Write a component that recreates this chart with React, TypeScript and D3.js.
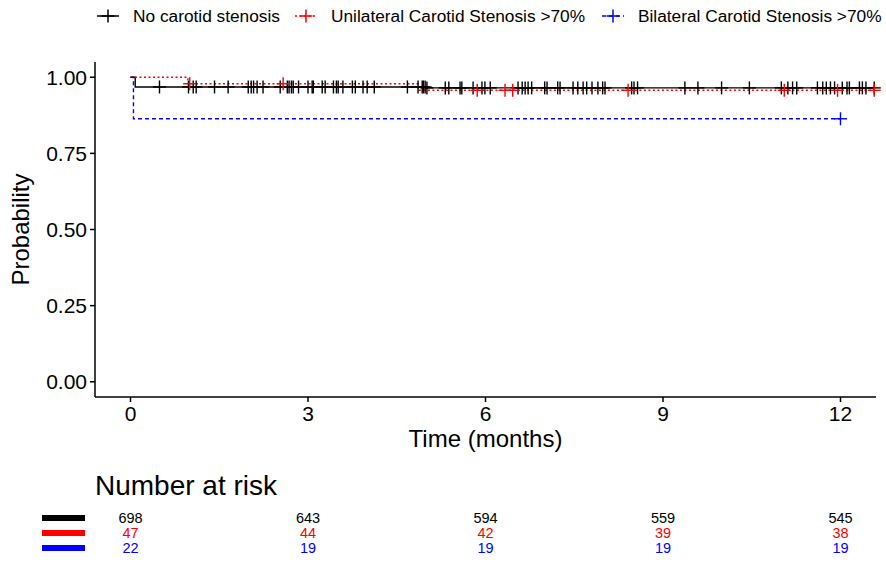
import React from "react";
import * as d3 from "d3";

const W = 886;
const H = 564;

const groups = ["No carotid stenosis", "Unilateral Carotid Stenosis >70%", "Bilateral Carotid Stenosis >70%"];
const colors = ["#000000", "#ff0000", "#0000ff"];
const dashes = ["none", "2,2.5", "4,3"];

// step survival curves: [time, survival]
const survBlack: [number, number][] = [[0, 1], [0.08, 0.968], [5.0, 0.965], [12.57, 0.965]];
const survRed: [number, number][] = [[0, 1], [0.97, 0.9787], [4.86, 0.957], [12.57, 0.957]];
const survBlue: [number, number][] = [[0, 1], [0.05, 0.8636], [12.0, 0.8636]];

const censorBlack = [0.49, 0.98, 1.06, 1.11, 1.42, 1.65, 1.99, 2.04, 2.08, 2.14, 2.24, 2.53, 2.65, 2.68, 2.72, 2.75, 2.84, 3.0, 3.07, 3.09, 3.24, 3.29, 3.43, 3.48, 3.51, 3.59, 3.75, 3.8, 3.93, 4.0, 4.12, 4.68, 4.86, 4.93, 4.95, 4.98, 5.01, 5.32, 5.38, 5.57, 5.6, 5.79, 5.94, 5.99, 6.08, 6.55, 6.62, 6.67, 6.72, 6.78, 7.0, 7.04, 7.22, 7.26, 7.48, 7.56, 7.65, 7.71, 7.8, 7.9, 7.98, 8.02, 8.47, 8.51, 8.57, 9.37, 9.59, 9.99, 10.46, 11.0, 11.11, 11.19, 11.26, 11.61, 11.7, 11.76, 11.83, 11.9, 12.03, 12.11, 12.15, 12.32, 12.37, 12.43, 12.57];
const censorRed = [1.0, 2.58, 5.86, 6.33, 6.46, 8.41, 11.05, 11.95, 12.57];
const censorBlue = [12.0];

const xTicks = [0, 3, 6, 9, 12];
const yTicks = [0, 0.25, 0.5, 0.75, 1.0];
const riskBlack = [698, 643, 594, 559, 545];
const riskRed = [47, 44, 42, 39, 38];
const riskBlue = [22, 19, 19, 19, 19];

const FONT = "'Liberation Sans', Arial, Helvetica, sans-serif";

function survAt(curve: [number, number][], t: number) {
  let s = curve[0][1];
  for (const [ct, cs] of curve) if (ct <= t) s = cs;
  return s;
}

export default function App() {
  const left = 95, right = 876, top = 62, bottom = 397;
  const x = d3.scaleLinear().domain([-0.6, 12.6]).range([left, right]);
  const y = d3.scaleLinear().domain([-0.05, 1.05]).range([bottom, top]);
  const line = d3.line<[number, number]>().x((d) => x(d[0])).y((d) => y(d[1])).curve(d3.curveStepAfter);

  const curves = [survBlack, survRed, survBlue];
  const censors = [censorBlack, censorRed, censorBlue];
  const risks = [riskBlack, riskRed, riskBlue];
  const cs = 6.5;

  const legendItems = [
    { key: 108, text: 133 },
    { key: 306, text: 331 },
    { key: 613, text: 638 },
  ];

  return (
    <svg width={W} height={H} style={{ position: "absolute", left: 0, top: 0 }} fontFamily={FONT}>
      <rect width={W} height={H} fill="#fff" />
      {/* legend */}
      {legendItems.map((it, i) => (
        <g key={i}>
          <line x1={it.key - 11} x2={it.key + 11} y1={16} y2={16} stroke={colors[i]} strokeWidth={1.5} strokeDasharray={dashes[i]} />
          <line x1={it.key - cs} x2={it.key + cs} y1={16} y2={16} stroke={colors[i]} strokeWidth={1.5} />
          <line x1={it.key} x2={it.key} y1={16 - cs} y2={16 + cs} stroke={colors[i]} strokeWidth={1.5} />
          <text x={it.text} y={16} dy="0.35em" fontSize={17.3} fill="#000">{groups[i]}</text>
        </g>
      ))}
      {/* axes */}
      <line x1={left} x2={left} y1={top} y2={bottom} stroke="#000" strokeWidth={1.5} />
      <line x1={left} x2={right} y1={bottom} y2={bottom} stroke="#000" strokeWidth={1.5} />
      {yTicks.map((t) => (
        <g key={t}>
          <line x1={left - 5} x2={left} y1={y(t)} y2={y(t)} stroke="#000" strokeWidth={1.5} />
          <text x={left - 8} y={y(t)} dy="0.36em" textAnchor="end" fontSize={21} fill="#000">{t.toFixed(2)}</text>
        </g>
      ))}
      {xTicks.map((t) => (
        <g key={t}>
          <line x1={x(t)} x2={x(t)} y1={bottom} y2={bottom + 5} stroke="#000" strokeWidth={1.5} />
          <text x={x(t)} y={bottom + 24} textAnchor="middle" fontSize={21} fill="#000">{t}</text>
        </g>
      ))}
      <text x={(left + right) / 2} y={447} textAnchor="middle" fontSize={24} fill="#000">Time (months)</text>
      <text transform={`translate(29,${(top + bottom) / 2}) rotate(-90)`} textAnchor="middle" fontSize={24} fill="#000">Probability</text>
      {/* curves */}
      {curves.map((c, i) => (
        <path key={i} d={line(c) || ""} fill="none" stroke={colors[i]} strokeWidth={1.4} strokeDasharray={dashes[i]} />
      ))}
      {censors.map((arr, i) => (
        <g key={i} stroke={colors[i]} strokeWidth={1.4}>
          {arr.map((t, j) => {
            const cx = x(t), cy = y(survAt(curves[i], t));
            return (
              <g key={j}>
                <line x1={cx - cs} x2={cx + cs} y1={cy} y2={cy} />
                <line x1={cx} x2={cx} y1={cy - cs} y2={cy + cs} />
              </g>
            );
          })}
        </g>
      ))}
      {/* risk table */}
      <text x={95} y={495} fontSize={28} fill="#000">Number at risk</text>
      {risks.map((r, i) => (
        <g key={i}>
          <rect x={42} y={518 + i * 15 - 3} width={43} height={6} fill={colors[i]} />
          {r.map((v, j) => (
            <text key={j} x={x(xTicks[j])} y={518 + i * 15} dy="0.36em" textAnchor="middle" fontSize={14.5} fill={colors[i]}>{v}</text>
          ))}
        </g>
      ))}
    </svg>
  );
}
